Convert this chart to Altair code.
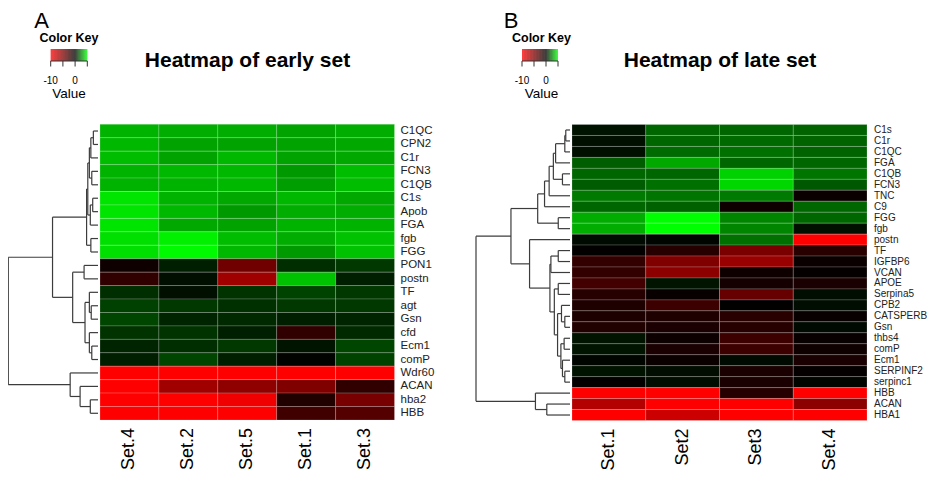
import altair as alt
import numpy as np
import pandas as pd

FONT = "Liberation Sans"

# ---------------- Panel A : early set ----------------
A_COLS = ["Set.4", "Set.2", "Set.5", "Set.1", "Set.3"]
A_ROWS = ["C1QC", "CPN2", "C1r", "FCN3", "C1QB", "C1s", "Apob", "FGA", "fgb", "FGG",
          "PON1", "postn", "TF", "agt", "Gsn", "cfd", "Ecm1", "comP",
          "Wdr60", "ACAN", "hba2", "HBB"]
A_VALUES = [
    [3.5, 3.4, 3.4, 3.2, 3.4],
    [3.6, 3.2, 3.2, 3.2, 3.3],
    [3.7, 3.2, 3.6, 3.2, 3.3],
    [3.5, 3.6, 3.6, 3.0, 3.7],
    [3.5, 3.5, 3.6, 3.1, 3.7],
    [4.5, 3.5, 3.3, 3.6, 3.3],
    [4.5, 3.6, 3.0, 3.4, 3.4],
    [4.5, 3.3, 3.2, 3.5, 3.5],
    [4.4, 4.7, 3.7, 3.4, 3.8],
    [4.4, 4.9, 3.6, 3.0, 3.8],
    [-0.6, 0.6, -4.4, 0.9, 1.1],
    [-1.9, 0.3, -6.3, 3.8, 0.6],
    [0.9, 0.3, 1.0, 1.3, 1.1],
    [1.25, 1.1, 0.95, 1.1, 1.1],
    [1.35, 0.7, 0.8, 0.6, 0.7],
    [1.0, 1.0, 0.6, -1.9, 0.8],
    [0.7, 0.9, 1.1, 0.4, 1.35],
    [0.6, 1.35, 0.6, 0.05, 1.3],
    [-10, -10, -10, -10, -10],
    [-10, -6.3, -5.6, -5.0, -1.9],
    [-10, -10, -9.4, -1.3, -4.7],
    [-10, -10, -10, -2.5, -3.3],
]
# row dendrogram: (left, right, merge height)
A_TREE = (
    (
        (
            (
                ((("C1QC", "CPN2", 5.0), "C1r", 7.7), ("FCN3", "C1QB", 6.7), 9.3),
                (("C1s", "Apob", 5.7), "FGA", 8.3),
                11.0,
            ),
            ("fgb", "FGG", 7.7),
            12.3,
        ),
        (
            ("PON1", "postn", 15.0),
            (("TF", ("agt", "Gsn", 7.3), 9.3), ("cfd", ("Ecm1", "comP", 6.7), 9.3), 14.0),
            27.3,
        ),
        49.0,
    ),
    ("Wdr60", ("ACAN", ("hba2", "HBB", 8.3), 19.3), 30.0),
    96.7,
)

# ---------------- Panel B : late set ----------------
B_COLS = ["Set.1", "Set2", "Set3", "Set.4"]
B_ROWS = ["C1s", "C1r", "C1QC", "FGA", "C1QB", "FCN3", "TNC", "C9", "FGG", "fgb",
          "postn", "TF", "IGFBP6", "VCAN", "APOE", "Serpina5", "CPB2", "CATSPERB",
          "Gsn", "thbs4", "comP", "Ecm1", "SERPINF2", "serpinc1", "HBB", "ACAN", "HBA1"]
B_VALUES = [
    [0.35, 2.0, 2.0, 1.95],
    [0.3, 2.0, 2.05, 1.95],
    [0.3, 2.1, 2.2, 1.95],
    [1.85, 3.3, 2.0, 2.0],
    [2.0, 2.0, 4.1, 2.3],
    [1.8, 2.2, 4.2, 1.75],
    [2.4, 2.3, 2.4, -0.4],
    [2.0, 1.9, -0.6, 2.0],
    [3.4, 5.0, 2.6, 2.0],
    [3.4, 5.0, 2.6, 0.3],
    [0.2, 0.1, 2.2, -10],
    [-0.1, -1.5, -4.8, -1.6],
    [-2.0, -5.0, -6.0, -0.4],
    [-2.0, -5.5, -0.6, -0.2],
    [-2.6, 0.4, -0.8, -1.0],
    [-1.5, -0.3, -4.0, 0.25],
    [-1.2, -2.4, -0.1, 0.25],
    [-1.1, -1.2, -1.6, -0.3],
    [-1.3, -1.0, -1.5, 0.2],
    [0.4, -0.5, -2.4, -0.3],
    [0.4, -1.0, -2.4, -0.6],
    [0.1, -0.4, 0.2, -1.0],
    [0.35, 0.25, -1.0, -0.2],
    [-0.2, 0.25, -1.0, 0.1],
    [-10, -10, -1.5, -10],
    [-7.0, -10, -10, -5.5],
    [-10, -8.0, -10, -10],
]
B_TREE = (
    (
        (
            (
                (
                    (((("C1s", "C1r", 4.3), "C1QC", 5.3), "FGA", 14.7), ("C1QB", "FCN3", 7.7), 17.0),
                    "TNC", 21.3,
                ),
                "C9", 26.0,
            ),
            ("FGG", "fgb", 12.0),
            33.0,
        ),
        (
            "postn",
            (
                (("TF", "IGFBP6", 12.0), "VCAN", 19.5),
                (
                    ("APOE", "Serpina5", 12.0),
                    (
                        ("CPB2", ("CATSPERB", "Gsn", 5.3), 8.7),
                        (("thbs4", "comP", 6.0), ("Ecm1", ("SERPINF2", "serpinc1", 5.3), 7.7), 9.3),
                        12.7,
                    ),
                    16.0,
                ),
                20.5,
            ),
            41.3,
        ),
        60.3,
    ),
    ("HBB", ("ACAN", "HBA1", 23.7), 35.3),
    96.0,
)

KEY_TICKS = [-10, -5, 0, 5]
KEY_LABELS = [-10, 0]

COLOR = alt.Color(
    "value:Q",
    scale=alt.Scale(domain=[-10, 0, 5], range=["#ff0000", "#000000", "#00ff00"],
                    clamp=True, interpolate="rgb"),
    legend=None,
)


def lin(domain, rng):
    return alt.Scale(domain=domain, range=rng, nice=False, zero=False)


def leaf_order(t):
    if isinstance(t, str):
        return [t]
    return leaf_order(t[0]) + leaf_order(t[1])


def dendro_segments(tree, rows):
    pos = {r: i + 0.5 for i, r in enumerate(rows)}
    segs = []

    def walk(t):
        if isinstance(t, str):
            return 0.0, pos[t]
        h1, y1 = walk(t[0])
        h2, y2 = walk(t[1])
        h = t[2]
        segs.append({"x": h1, "x2": h, "y": y1, "y2": y1})
        segs.append({"x": h2, "x2": h, "y": y2, "y2": y2})
        segs.append({"x": h, "x2": h, "y": y1, "y2": y2})
        return h, (y1 + y2) / 2

    walk(tree)
    return pd.DataFrame(segs)


def panel(cols, rows, values, tree, xr, yr, dom_d, dr, lab_size, lab_dx):
    assert leaf_order(tree) == rows
    nc, nr = len(cols), len(rows)
    recs = []
    for i, r in enumerate(rows):
        for j, c in enumerate(cols):
            recs.append({"gene": r, "set": c, "value": values[i][j],
                         "c0": j, "c1": j + 1, "r0": i, "r1": i + 1})
    heat_df = pd.DataFrame(recs)
    xs = lin([0, nc], xr)
    ys = lin([0, nr], yr)

    heat = alt.Chart(heat_df).mark_rect(stroke="white", strokeWidth=0.6, strokeOpacity=0.3).encode(
        x=alt.X("c0:Q", scale=xs, axis=None), x2="c1:Q",
        y=alt.Y("r0:Q", scale=ys, axis=None), y2="r1:Q",
        color=COLOR,
    )
    row_df = pd.DataFrame({"gene": rows, "yy": [i + 0.5 for i in range(nr)], "xx": [nc] * nr})
    row_lab = alt.Chart(row_df).mark_text(
        align="left", baseline="middle", font=FONT, fontSize=lab_size, color="#222222", dx=lab_dx
    ).encode(
        x=alt.X("xx:Q", scale=xs, axis=None),
        y=alt.Y("yy:Q", scale=ys, axis=None),
        text="gene:N",
    )
    col_df = pd.DataFrame({"set": cols, "xx": [j + 0.5 for j in range(nc)], "yy": [nr] * nc})
    # dx is applied in the rotated frame: negative dx moves the label down the page
    col_lab = alt.Chart(col_df).mark_text(
        angle=270, align="right", baseline="middle", font=FONT, fontSize=18, color="#000000", dx=-8
    ).encode(
        x=alt.X("xx:Q", scale=xs, axis=None),
        y=alt.Y("yy:Q", scale=ys, axis=None),
        text="set:N",
    )
    seg_df = dendro_segments(tree, rows)
    dend = alt.Chart(seg_df).mark_rule(color="#3c3c3c", strokeWidth=1.2).encode(
        x=alt.X("x:Q", scale=lin(dom_d, dr), axis=None), x2="x2:Q",
        y=alt.Y("y:Q", scale=ys, axis=None), y2="y2:Q",
    )
    return [heat, row_lab, col_lab, dend]


def color_key(xr, cx):
    ks = lin([KEY_TICKS[0], KEY_TICKS[-1]], xr)
    step = 0.25
    grid = np.arange(KEY_TICKS[0], KEY_TICKS[-1], step)
    bar_df = pd.DataFrame({"value": grid + step / 2, "k0": grid, "k1": grid + step})
    bar = alt.Chart(bar_df).mark_rect().encode(
        x=alt.X("k0:Q", scale=ks, axis=None), x2="k1:Q",
        y=alt.value(41), y2=alt.value(53),
        color=COLOR,
    )
    tick_df = pd.DataFrame({"t": KEY_TICKS})
    ticks = alt.Chart(tick_df).mark_rule(color="#333333", strokeWidth=1).encode(
        x=alt.X("t:Q", scale=ks, axis=None), y=alt.value(53), y2=alt.value(58.5)
    )
    base_df = pd.DataFrame({"a": [KEY_TICKS[0]], "b": [KEY_TICKS[-1]]})
    base = alt.Chart(base_df).mark_rule(color="#333333", strokeWidth=1).encode(
        x=alt.X("a:Q", scale=ks, axis=None), x2="b:Q", y=alt.value(53)
    )
    lab_df = pd.DataFrame({"t": KEY_LABELS, "s": [str(v) for v in KEY_LABELS]})
    labs = alt.Chart(lab_df).mark_text(font=FONT, fontSize=10, baseline="alphabetic", color="#000").encode(
        x=alt.X("t:Q", scale=ks, axis=None), y=alt.value(76), text="s:N"
    )
    title = alt.Chart(pd.DataFrame({"s": ["Color Key"]})).mark_text(
        font=FONT, fontSize=12.5, fontWeight="bold", baseline="alphabetic", color="#000"
    ).encode(x=alt.value(cx), y=alt.value(33.5), text="s:N")
    value = alt.Chart(pd.DataFrame({"s": ["Value"]})).mark_text(
        font=FONT, fontSize=13.5, baseline="alphabetic", color="#000"
    ).encode(x=alt.value(cx), y=alt.value(90), text="s:N")
    return [bar, ticks, base, labs, title, value]


def label(s, x, y, size, weight="normal"):
    return alt.Chart(pd.DataFrame({"s": [s]})).mark_text(
        font=FONT, fontSize=size, fontWeight=weight, baseline="alphabetic", color="#000"
    ).encode(x=alt.value(x), y=alt.value(y), text="s:N")


layers = []
layers += panel(A_COLS, A_ROWS, A_VALUES, A_TREE, [92, 386.5], [116.3, 412], [0, 97], [90, 0], 11.5, 6)
layers += panel(B_COLS, B_ROWS, B_VALUES, B_TREE, [564, 859], [116.5, 412.5], [0, 96], [562, 468], 10, 7)
layers += color_key([42.7, 79.3], 61)
layers += color_key([514, 550], 533.5)
layers += [
    label("A", 33.5, 19.5, 22),
    label("B", 503, 19.5, 22),
    label("Heatmap of early set", 239.5, 59, 21, "bold"),
    label("Heatmap of late set", 712, 59, 21, "bold"),
]

chart = alt.layer(*layers).resolve_scale(x="independent", y="independent").properties(
    width=920, height=474, padding=0, autosize=alt.AutoSizeParams(type="none")
).configure_view(stroke=None)

chart.save("out.html", embed_options={"renderer": "svg", "actions": False})
